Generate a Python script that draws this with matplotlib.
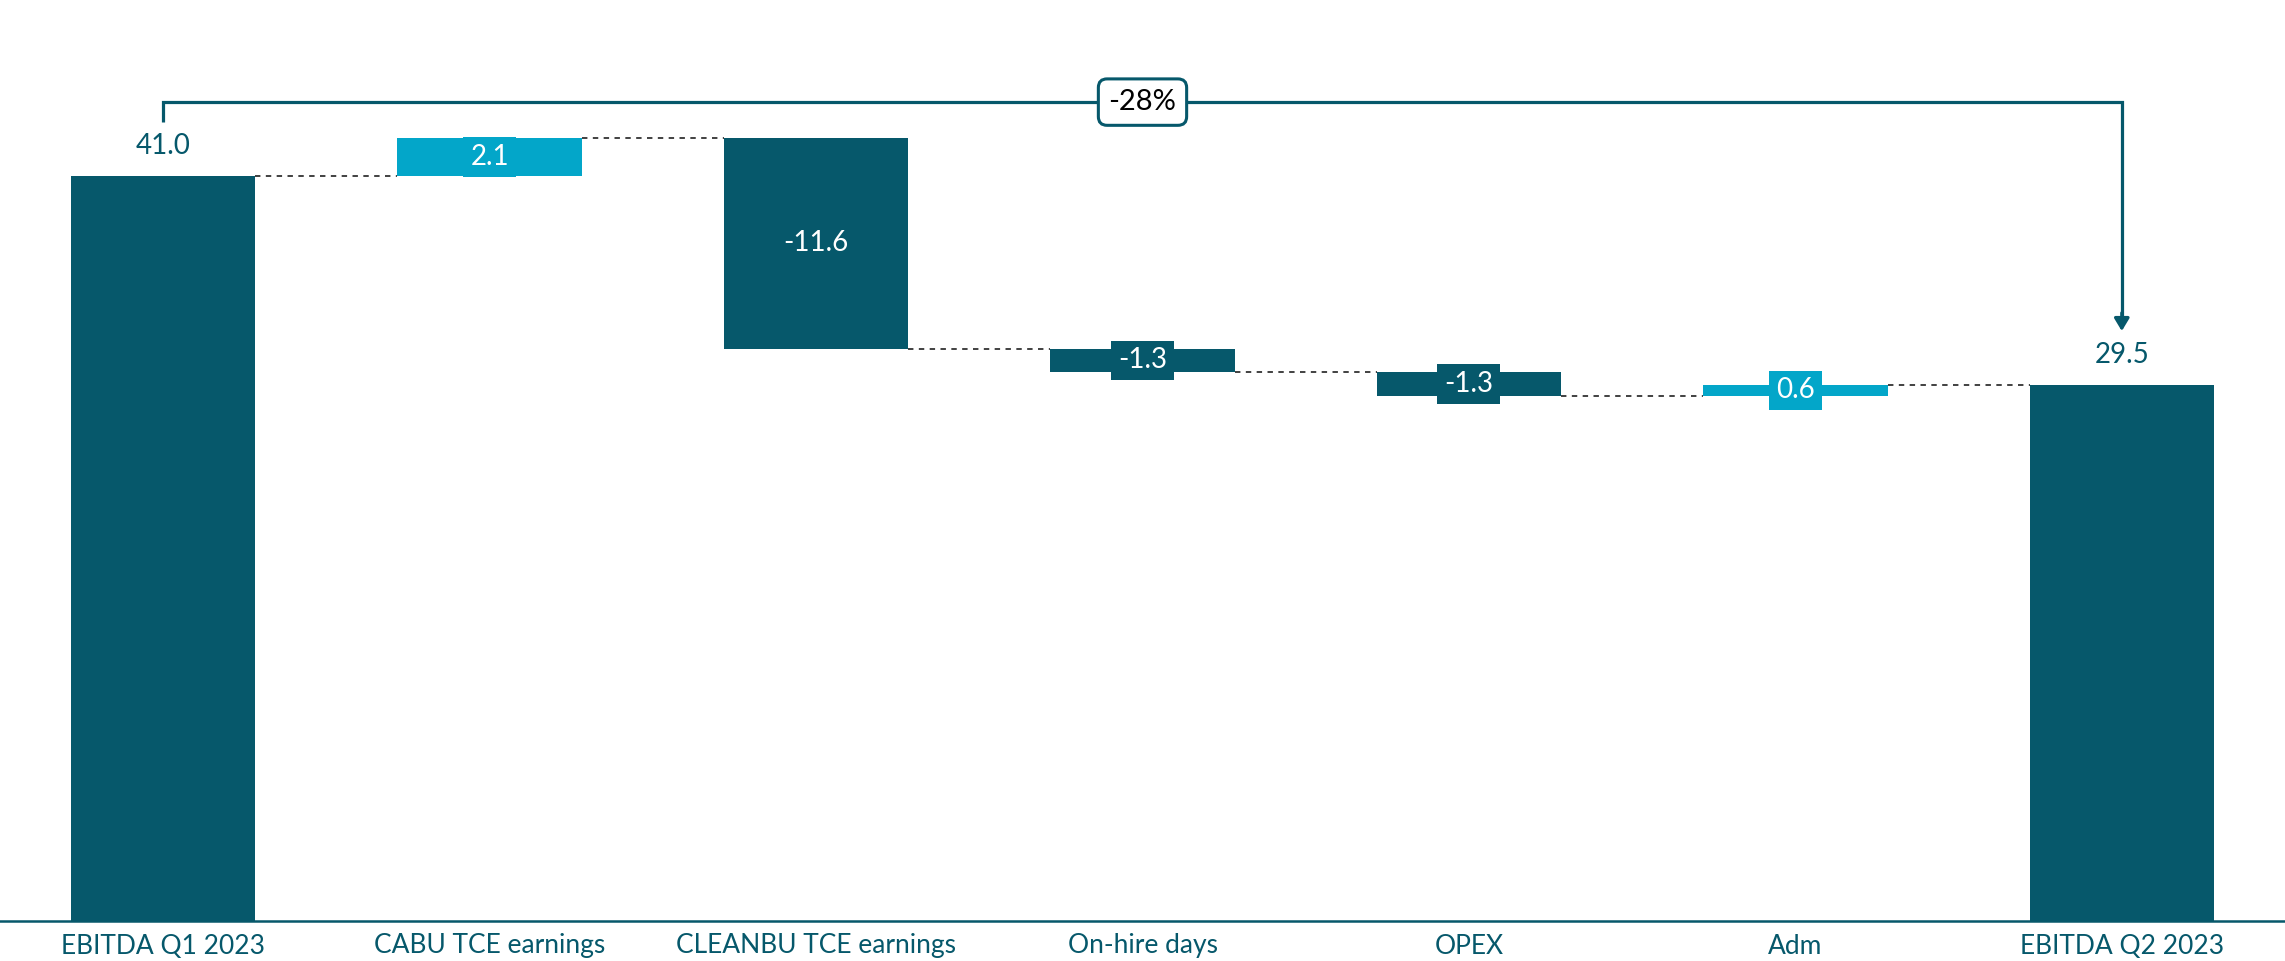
import matplotlib
matplotlib.use("Agg")
from matplotlib import pyplot as plt
import numpy as np

# EBITDA bridge, Q1 2023 -> Q2 2023 (USD m)
categories = ["EBITDA Q1 2023", "CABU TCE earnings", "CLEANBU TCE earnings",
              "On-hire days", "OPEX", "Adm", "EBITDA Q2 2023"]
values = [41.0, 2.1, -11.6, -1.3, -1.3, 0.6, 29.5]
is_total = [True, False, False, False, False, False, True]
change_label = "-28%"

dark = "#06586b"
light = "#03a6c9"

plt.rcParams["font.family"] = ["Lato", "DejaVu Sans"]

fig = plt.figure(figsize=(22.85, 9.61), dpi=100)
ax = fig.add_axes([0, 40 / 961, 1, 921 / 961])

x = np.arange(len(categories))
width = 0.565

# running level for the floating bars
bottoms = []
tops = []
level = 0.0
for v, tot in zip(values, is_total):
    if tot:
        bottoms.append(0.0)
        tops.append(v)
        level = v
    else:
        bottoms.append(min(level, level + v))
        tops.append(max(level, level + v))
        level = level + v

colors = []
for v, tot in zip(values, is_total):
    if tot or v < 0:
        colors.append(dark)
    else:
        colors.append(light)

heights = [t - b for t, b in zip(tops, bottoms)]
ax.bar(x, heights, bottom=bottoms, width=width, color=colors, zorder=2)

# dashed connectors between neighbouring bars
level = 0.0
ends = []
for v, tot in zip(values, is_total):
    level = v if tot else level + v
    ends.append(level)
for i in range(len(x) - 1):
    ax.plot([x[i] + width / 2, x[i + 1] - width / 2], [ends[i], ends[i]],
            color="#333333", lw=1.3, ls=(0, (3, 3)), zorder=1)

# value labels
for i, (v, tot) in enumerate(zip(values, is_total)):
    if tot:
        ax.text(x[i], tops[i] + 1.65, f"{v:.1f}", ha="center", va="center",
                fontsize=20, color=dark)
    else:
        ax.text(x[i], (tops[i] + bottoms[i]) / 2, f"{v:.1f}", ha="center",
                va="center", fontsize=20, color="white", zorder=3,
                bbox=dict(boxstyle="square,pad=0.25", fc=colors[i], ec="none"))

# bracket from first to last total with percentage change
y_br = 45.07
tip = 32.47
lc = dark
ax.plot([x[0], x[0], x[-1], x[-1]], [43.97, y_br, y_br, tip + 0.6],
        color=lc, lw=2.3, solid_joinstyle="miter", solid_capstyle="butt")
ax.annotate("", xy=(x[-1], tip), xytext=(x[-1], tip + 1.0),
            arrowprops=dict(arrowstyle="-|>,head_length=0.75,head_width=0.45",
                            color=lc, lw=2.3, shrinkA=0, shrinkB=0))
ax.text((x[0] + x[-1]) / 2, y_br, change_label, ha="center", va="center",
        fontsize=21, color="black", zorder=4,
        bbox=dict(boxstyle="round,pad=0.35,rounding_size=0.3", fc="white",
                  ec=lc, lw=2.2))

ax.set_xlim(-0.5, len(categories) - 0.5)
ax.set_ylim(0, 50.69)
ax.set_xticks(x)
ax.set_xticklabels(categories, fontsize=19, color=dark)
ax.tick_params(axis="x", length=0, pad=9)
ax.set_yticks([])
for s in ["top", "left", "right"]:
    ax.spines[s].set_visible(False)
ax.spines["bottom"].set_color(dark)
ax.spines["bottom"].set_linewidth(1.8)

fig.savefig("out.png", dpi=100)
